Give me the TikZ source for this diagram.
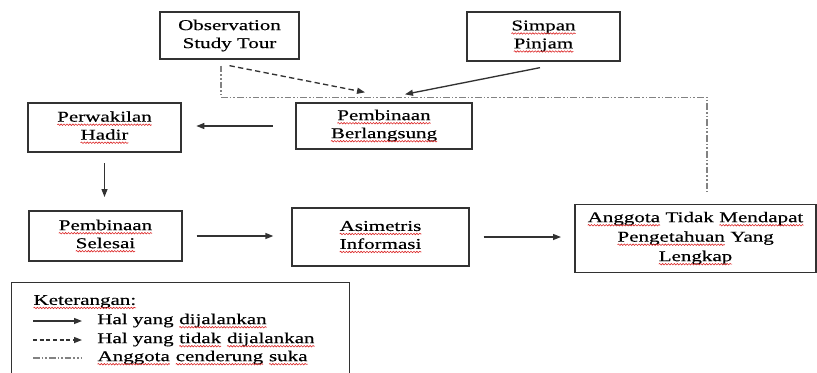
\documentclass[tikz,border=0pt]{standalone}
\usepackage{fontspec}
\setmainfont{Liberation Serif}[FakeStretch=1.4, FakeBold=0.4]
\usepackage{tikz}
\usetikzlibrary{arrows.meta,calc,decorations.pathmorphing}

\definecolor{spellred}{RGB}{220,40,40}
\definecolor{edge}{RGB}{50,50,50}
\definecolor{dotline}{RGB}{130,130,130}

% red wavy spell-check underline under a word
\newcommand\sq[1]{\tikz[baseline=(sqw.base)]{%
  \node[draw=none, fill=none, rectangle, anchor=center, inner sep=0pt, outer sep=0pt,
        minimum width=0pt, minimum height=0pt] (sqw) {#1};
  \draw[spellred, line width=0.45pt, decorate,
        decoration={snake, amplitude=0.55pt, segment length=2.2pt}]
    ([yshift=-2.3pt]sqw.base west) -- ([yshift=-2.3pt]sqw.base east);}}

\begin{document}
\begin{tikzpicture}[x=0.75pt,y=-0.75pt,
  every node/.style={font=\fontsize{11.25}{13.5}\selectfont, text=black},
  stepbox/.style={draw=edge, line width=1pt, align=center, inner sep=2pt},
  flow/.style={draw=edge, line width=1pt, -{Triangle[length=6pt,width=4.5pt]}},
  planned/.style={flow, dash pattern=on 4pt off 2.5pt},
  liking/.style={draw=dotline, line width=0.9pt,
    dash pattern=on 5pt off 1.5pt on 1.2pt off 1.5pt on 1.2pt off 1.5pt},
  note/.style={anchor=west, inner sep=0pt}]

\useasboundingbox (0,0) rectangle (817,372);

% process boxes
\node[stepbox, minimum width=104.25pt, minimum height=35.25pt] (obs) at (229.5,35.5)
  {Observation\\Study Tour};
\node[stepbox, minimum width=114.75pt, minimum height=36.75pt] (simp) at (543.5,36.5)
  {\sq{Simpan}\\\sq{Pinjam}};
\node[stepbox, minimum width=132pt, minimum height=34.5pt] (berl) at (384,126)
  {\sq{Pembinaan}\\\sq{Berlangsung}};
\node[stepbox, minimum width=114.75pt, minimum height=36.75pt] (perw) at (104.5,127.5)
  {\sq{Perwakilan}\\\sq{Hadir}};
\node[stepbox, minimum width=114.75pt, minimum height=37.5pt] (sel) at (105.5,236)
  {\sq{Pembinaan}\\\sq{Selesai}};
\node[stepbox, minimum width=132.75pt, minimum height=43.5pt] (asi) at (380.5,237)
  {\sq{Asimetris}\\\sq{Informasi}};
\node[stepbox, minimum width=180.75pt, minimum height=51pt, inner sep=1pt,
  font=\fontsize{11.25}{14.6}\selectfont] (ang) at (695.5,238.5)
  {\sq{Anggota} Tidak \sq{Mendapat}\\\sq{Pengetahuan} Yang\\\sq{Lengkap}};

% main flow
\draw[flow, shorten <=17pt, shorten >=11pt] (berl.west) -- (berl.west -| perw.east);
\draw[flow, shorten <=8pt, shorten >=10pt] (perw.south) -- (perw.south |- sel.north);
\draw[flow, shorten <=10.5pt, shorten >=13.5pt] (sel.east) -- (sel.east -| asi.west);
\draw[flow, shorten <=10.5pt, shorten >=10pt] (asi.east) -- (asi.east -| ang.west);

% inputs into the ongoing coaching
\draw[planned] ($(obs.south)+(0,6)$) -- ($(berl.north)+(-19,-10)$);
\draw[flow] ($(simp.south)+(-3.5,6)$) -- ($(berl.north)+(21,-8)$);

% members' preference line
\draw[liking] ($(obs.south)+(-8.5,6)$) |- ($(ang.north)+(11.5,-106.5)$) -- ($(ang.north)+(11.5,-11.5)$);

% legend
\node[draw=edge, line width=1pt, anchor=north west, minimum width=253.5pt,
  minimum height=90pt] (legend) at (11,282) {};
\node[note] (ket) at (33,302) {\sq{Keterangan:}};
\coordinate (la1) at (33,321);  \coordinate (lb1) at (82,321);
\coordinate (la2) at (33,340);  \coordinate (lb2) at (82,340);
\coordinate (la3) at (33,358);  \coordinate (lb3) at (82,358);
\draw[flow] (la1) -- (lb1);
\draw[planned, dash pattern=on 3pt off 2pt] (la2) -- (lb2);
\draw[liking] (la3) -- (lb3);
\node[note] (t1) at (97,321) {Hal yang \sq{dijalankan}};
\node[note] (t2) at (97,340) {Hal yang \sq{tidak} \sq{dijalankan}};
\node[note] (t3) at (97,358) {\sq{Anggota} \sq{cenderung} \sq{suka}};
\end{tikzpicture}
\end{document}
